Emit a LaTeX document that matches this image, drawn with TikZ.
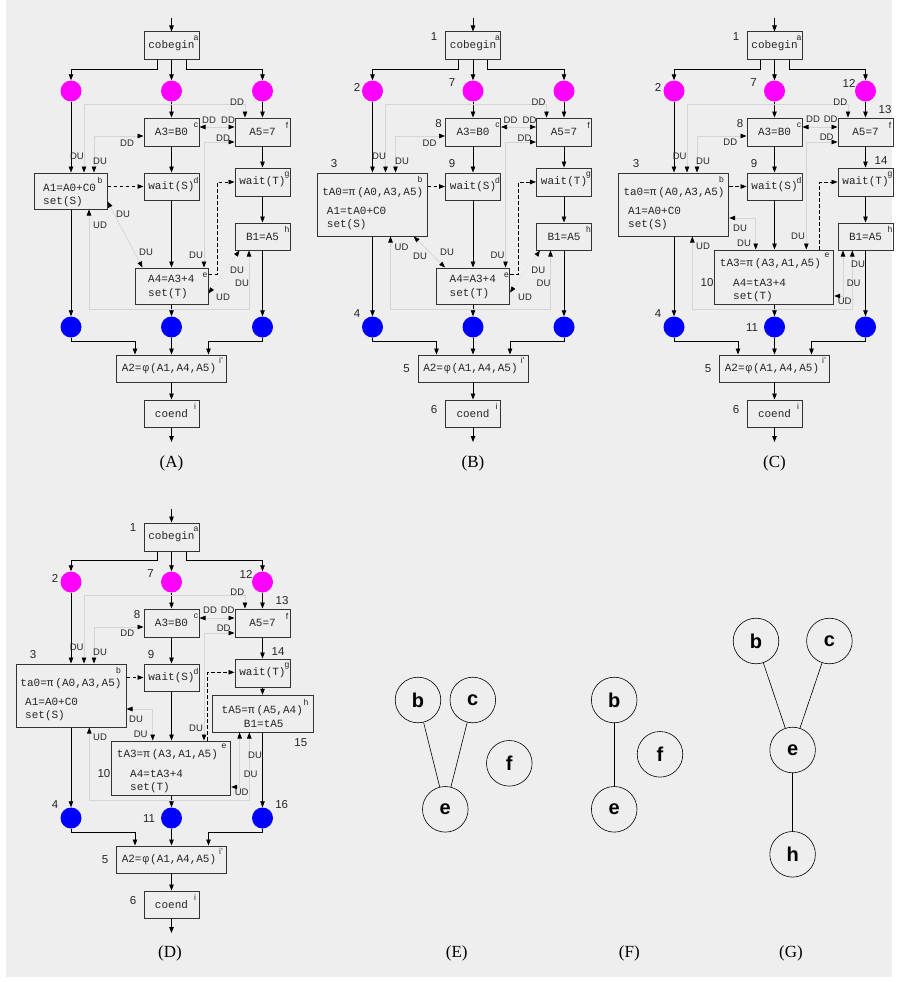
\documentclass[tikz,border=0pt]{standalone}
\usepackage{fontspec}
\setmainfont{Liberation Serif}
\setsansfont{Liberation Sans}
\setmonofont{Liberation Mono}
\usetikzlibrary{arrows.meta,calc}
\definecolor{bg}{HTML}{EEEEEE}
\definecolor{depc}{HTML}{D5D5D5}
\definecolor{magc}{HTML}{FF00FF}
\definecolor{bluc}{HTML}{0000FF}
\definecolor{boxc}{HTML}{333333}
\tikzset{
 box/.style={draw=boxc, line width=1pt, inner sep=0pt, text=black!85, font=\fontsize{11}{12}\ttfamily},
 txt/.style={inner sep=0pt, text=black!85, font=\fontsize{11}{12}\ttfamily},
 crn/.style={inner sep=0pt, text=black!85, font=\fontsize{8.5}{9}\sffamily},
 lab/.style={inner sep=0pt, text=black!85, font=\fontsize{9.5}{10}\sffamily},
 num/.style={inner sep=0pt, text=black!85, font=\fontsize{11.5}{12}\sffamily},
 magnode/.style={circle, fill=magc, minimum size=21pt, inner sep=0pt},
 blunode/.style={circle, fill=bluc, minimum size=21pt, inner sep=0pt},
 arr/.style={line width=0.8pt, -{Triangle[length=6pt,width=4.5pt]}},
 dep/.style={draw=depc, line width=0.7pt, {Triangle[length=6pt,width=4.5pt,color=black]}-{Triangle[length=6pt,width=4.5pt,color=black]}},
 dashline/.style={line width=0.8pt, dash pattern=on 3.5pt off 2.5pt, -{Triangle[length=6pt,width=4.5pt]}},
 gcirc/.style={circle, draw, line width=0.6pt, minimum size=45.6pt, inner sep=0pt, font=\fontsize{20}{22}\sffamily\bfseries},
 captxt/.style={inner sep=0pt, font=\fontsize{17}{19}\rmfamily}
}
\newcommand\cmnpart{%
 \coordinate (in) at (171.5,18);
 \coordinate (out) at (171.5,442);
 \node[box,minimum width=55pt,minimum height=28pt] (cob) at (171.5,46) {cobegin};
 \node[crn] (cobl) at (196,38) {a};
 \node[magnode] (m1) at (71,91) {};
 \node[magnode] (m2) at (171.5,91) {};
 \node[magnode] (m3) at (262.5,91) {};
 \node[box,minimum width=55pt,minimum height=28pt] (c) at (171.5,132) {A3=B0};
 \node[crn] (cl) at (196,125) {c};
 \node[box,minimum width=55pt,minimum height=28pt] (f) at (262.5,132) {A5=7};
 \node[crn] (fl) at (287,125) {f};
 \node[box,minimum width=55pt,minimum height=27pt] (d) at (171.5,186.5) {wait(S)};
 \node[crn] (dl) at (196,180) {d};
 \node[box,minimum width=55pt,minimum height=28pt] (g) at (262.5,182) {wait(T)};
 \node[crn] (gl) at (287,175) {g};
 \node[blunode] (u1) at (71,327) {};
 \node[blunode] (u2) at (171.5,327) {};
 \node[blunode] (u3) at (262.5,327) {};
 \node[box,minimum width=110pt,minimum height=27pt] (ip) at (171.5,368.5) {};
 \node[txt] (ipt) at (169,369) {A2=\hspace{1pt}φ\hspace{1pt}(A1,A4,A5)};
 \node[crn] (ipl) at (221,360) {i'};
 \node[box,minimum width=55pt,minimum height=27pt] (co) at (171.5,413.5) {coend};
 \node[crn] (col) at (195,406) {i};
 \draw[arr] (in) -- (cob);
 \draw[arr] ([xshift=-14.5pt]cob.south) -- ++(0,9) -| (m1);
 \draw[arr] (cob) -- (m2);
 \draw[arr] ([xshift=14.5pt]cob.south) -- ++(0,9) -| (m3);
 \draw[arr] (m2) -- (c);
 \draw[arr] (m3) -- (f);
 \draw[arr] (c) -- (d);
 \draw[arr] (f) -- (g);
 \draw[arr] (u1.south) -- ++(0,3.5) -| ([xshift=-36.5pt]ip.north);
 \draw[arr] (u2) -- (ip);
 \draw[arr] (u3.south) -- ++(0,3.5) -| ([xshift=37pt]ip.north);
 \draw[arr] (ip) -- (co);
 \draw[arr] (co) -- (out);
 \draw[arr] (m1) -- (b.north -| m1);
 \draw[arr] (b.south -| u1) -- (u1);
 \draw[arr] (d) -- (e.north -| d);
 \draw[arr] (e.south -| u2) -- (u2);
 \draw[arr] (g) -- (h.north -| g);
 \draw[arr] (h.south -| u3) -- (u3);
 \draw[dashline] (b.east |- d) -- (d.west);
 \coordinate (p1) at (84,104);
 \coordinate (p2) at (245,104);
 \draw[dep] (b.north -| p1) -- (p1) -- (p2) -- (f.north -| p2);
 \coordinate (p3) at (94,136);
 \draw[dep] (c.west |- p3) -- (p3) -- (b.north -| p3);
 \coordinate (p4) at (217,127);
 \draw[dep] (c.east |- p4) -- (f.west |- p4);
}
\begin{document}
\begin{tikzpicture}[x=1pt,y=-1pt]
\useasboundingbox (0,0) rectangle (898,982);
\fill[bg] (6,0) rectangle (892,977);

% ---------------- (A)
\begin{scope}[name prefix=A-]
 \node[box,minimum width=73pt,minimum height=36pt] (b) at (70.5,191) {};
 \node[txt,anchor=west] (bt1) at (43,188) {A1=A0+C0};
 \node[txt,anchor=west] (bt2) at (43,202) {set(S)};
 \node[crn] (bl) at (100,180) {b};
 \node[box,minimum width=73pt,minimum height=36pt] (e) at (171.5,286) {};
 \node[txt,anchor=west] (et1) at (148,279) {A4=A3+4};
 \node[txt,anchor=west] (et2) at (148,294) {set(T)};
 \node[crn] (el) at (205,275) {e};
 \node[box,minimum width=55pt,minimum height=27pt] (h) at (262.5,236.5) {B1=A5};
 \node[crn] (hl) at (287,229) {h};
 \cmnpart
 \coordinate (k1) at (217,274);
 \draw[dashline] (e.east |- k1) -- (k1) |- (g.west);
 \coordinate (p5) at (204,142);
 \draw[dep] (f.west |- p5) -- (p5) -- (e.north -| p5);
 \draw[dep] ([yshift=8pt]b.south east) -- ([xshift=8pt]e.north west);
 \coordinate (p6) at (89,309);
 \coordinate (p7) at (249,309);
 \draw[dep] (b.south -| p6) -- (p6) -- (p7) -- (h.south -| p7);
 \draw[dep,dotted] ([yshift=11pt]e.south east) -- ([xshift=5pt]h.south west);
 \node[lab] (l1) at (77,156) {DU};
 \node[lab] (l2) at (100,161) {DU};
 \node[lab] (l3) at (237,102) {DD};
 \node[lab] (l4) at (127,143) {DD};
 \node[lab] (l5) at (209,120) {DD};
 \node[lab] (l6) at (228,120) {DD};
 \node[lab] (l7) at (223,138) {DD};
 \node[lab] (l8) at (196,255) {DU};
 \node[lab] (l9) at (123,214) {DU};
 \node[lab] (l10) at (146,252) {DU};
 \node[lab] (l11) at (100,225) {UD};
 \node[lab] (l12) at (242,283) {DU};
 \node[lab] (l13) at (223,297) {UD};
 \node[lab] (l14) at (237,270) {DU};
 \node[captxt] (cp) at (171.5,463) {(A)};
\end{scope}

% ---------------- (B)
\begin{scope}[shift={(301.5,0)},name prefix=B-]
 \node[box,minimum width=110pt,minimum height=63pt] (b) at (70.7,204.5) {};
 \node[txt] (bt0) at (71.3,193) {tA0=π\hspace{2pt}(A0,A3,A5)};
 \node[txt,anchor=west] (bt1) at (25.2,211) {A1=tA0+C0};
 \node[txt,anchor=west] (bt2) at (25.2,225) {set(S)};
 \node[crn] (bl) at (118.5,179) {b};
 \node[box,minimum width=73pt,minimum height=36pt] (e) at (171.5,286) {};
 \node[txt,anchor=west] (et1) at (148,279) {A4=A3+4};
 \node[txt,anchor=west] (et2) at (148,294) {set(T)};
 \node[crn] (el) at (205,275) {e};
 \node[box,minimum width=55pt,minimum height=27pt] (h) at (262.5,236.5) {B1=A5};
 \node[crn] (hl) at (287,229) {h};
 \cmnpart
 \coordinate (k1) at (217,274);
 \draw[dashline] (e.east |- k1) -- (k1) |- (g.west);
 \coordinate (p5) at (204,142);
 \draw[dep] (f.west |- p5) -- (p5) -- (e.north -| p5);
 \draw[dep] ([xshift=-14pt]b.south east) -- ([xshift=9pt]e.north west);
 \coordinate (p6) at (89,309);
 \coordinate (p7) at (249,309);
 \draw[dep] (b.south -| p6) -- (p6) -- (p7) -- (h.south -| p7);
 \draw[dep,dotted] ([yshift=12pt]e.south east) -- ([xshift=4pt]h.south west);
 \node[lab] (l1) at (77.5,156) {DU};
 \node[lab] (l2) at (100.5,161) {DU};
 \node[lab] (l3) at (237,102) {DD};
 \node[lab] (l4) at (128,143) {DD};
 \node[lab] (l5) at (209,120) {DD};
 \node[lab] (l6) at (228,120) {DD};
 \node[lab] (l7) at (223,138) {DD};
 \node[lab] (l8) at (196,255) {DU};
 \node[lab] (l9) at (118.5,256) {DU};
 \node[lab] (l10) at (145.5,252) {DU};
 \node[lab] (l11) at (100,247) {UD};
 \node[lab] (l12) at (242,283) {DU};
 \node[lab] (l13) at (223.5,297) {UD};
 \node[lab] (l14) at (236.8,270) {DU};
 \node[num] (n1) at (132.5,37) {1};
 \node[num] (n2) at (55.5,87) {2};
 \node[num] (n7) at (150.5,83) {7};
 \node[num] (n8) at (137,124) {8};
 \node[num] (n3) at (32.5,164) {3};
 \node[num] (n9) at (150.5,164) {9};
 \node[num] (n4) at (55.5,314) {4};
 \node[num] (n5) at (105,369) {5};
 \node[num] (n6) at (132.5,410) {6};
 \node[captxt] (cp) at (171.5,463) {(B)};
\end{scope}

% ---------------- (C)
\begin{scope}[shift={(603,0)},name prefix=C-]
 \node[box,minimum width=110pt,minimum height=63pt] (b) at (70.7,204.5) {};
 \node[txt] (bt0) at (71,192.7) {ta0=π\hspace{2pt}(A0,A3,A5)};
 \node[txt,anchor=west] (bt1) at (25,210.7) {A1=A0+C0};
 \node[txt,anchor=west] (bt2) at (25,225) {set(S)};
 \node[crn] (bl) at (118.5,179) {b};
 \node[box,minimum width=119.4pt,minimum height=54.7pt] (e) at (171,277.35) {};
 \node[txt,anchor=west] (et0) at (116.7,264) {tA3=π\hspace{2pt}(A3,A1,A5)};
 \node[txt,anchor=west] (et1) at (130,283) {A4=tA3+4};
 \node[txt,anchor=west] (et2) at (130,297) {set(T)};
 \node[crn] (el) at (224,255) {e};
 \node[box,minimum width=55pt,minimum height=27pt] (h) at (262.5,236.5) {B1=A5};
 \node[crn] (hl) at (287,229) {h};
 \cmnpart
 \coordinate (k1) at (216.7,182);
 \draw[dashline] (e.north -| k1) -- (k1) -- (g.west |- k1);
 \coordinate (p5) at (203.3,142);
 \draw[dep] (f.west |- p5) -- (p5) -- (e.north -| p5);
 \coordinate (q1) at (152.7,218);
 \draw[dep] (b.east |- q1) -- (q1) -- (e.north -| q1);
 \coordinate (p6) at (89.3,309);
 \coordinate (p7) at (249.3,309);
 \draw[dep] (b.south -| p6) -- (p6) -- (p7) -- (h.south -| p7);
 \coordinate (q2) at (240,296);
 \draw[dep] (e.east |- q2) -- (q2) -- (h.south -| q2);
 \node[lab] (l1) at (76.7,156) {DU};
 \node[lab] (l2) at (100,161) {DU};
 \node[lab] (l3) at (237.3,102) {DD};
 \node[lab] (l4) at (127.3,142.7) {DD};
 \node[lab] (l5) at (210,119.3) {DD};
 \node[lab] (l6) at (227.7,119.3) {DD};
 \node[lab] (l7) at (223.7,137.7) {DD};
 \node[lab] (l8) at (195,236.7) {DU};
 \node[lab] (l9) at (137,228) {DU};
 \node[lab] (l10) at (141,243) {DU};
 \node[lab] (l11) at (100,246.7) {UD};
 \node[lab] (l12) at (255,264) {DU};
 \node[lab] (l13) at (250.7,283) {DU};
 \node[lab] (l14) at (241.7,301.7) {UD};
 \node[num] (n1) at (133,37) {1};
 \node[num] (n2) at (55,87) {2};
 \node[num] (n7) at (150.5,83) {7};
 \node[num] (n12) at (246,83) {12};
 \node[num] (n13) at (282,110) {13};
 \node[num] (n8) at (137,124) {8};
 \node[num] (n3) at (33,164) {3};
 \node[num] (n9) at (151,164) {9};
 \node[num] (n14) at (278,161) {14};
 \node[num] (n10) at (104,283) {10};
 \node[num] (n4) at (55,314) {4};
 \node[num] (n11) at (149,328) {11};
 \node[num] (n5) at (105,369) {5};
 \node[num] (n6) at (133,410) {6};
 \node[captxt] (cp) at (171.5,463) {(C)};
\end{scope}

% ---------------- (D)
\begin{scope}[shift={(0,491)},name prefix=D-]
 \node[box,minimum width=110pt,minimum height=63pt] (b) at (71,204.5) {};
 \node[txt] (bt0) at (71,192.7) {ta0=π\hspace{2pt}(A0,A3,A5)};
 \node[txt,anchor=west] (bt1) at (25,210.7) {A1=A0+C0};
 \node[txt,anchor=west] (bt2) at (25,225) {set(S)};
 \node[crn] (bl) at (118.5,179) {b};
 \node[box,minimum width=119.4pt,minimum height=54.7pt] (e) at (171,277.35) {};
 \node[txt,anchor=west] (et0) at (116.7,264) {tA3=π\hspace{2pt}(A3,A1,A5)};
 \node[txt,anchor=west] (et1) at (130,283) {A4=tA3+4};
 \node[txt,anchor=west] (et2) at (130,297) {set(T)};
 \node[crn] (el) at (224,255) {e};
 \node[box,minimum width=100.8pt,minimum height=36.7pt] (h) at (262.7,222.65) {};
 \node[txt] (ht0) at (262.3,220) {tA5=π\hspace{2pt}(A5,A4)};
 \node[txt] (ht1) at (263.8,233) {B1=tA5};
 \node[crn] (hl) at (306,211.3) {h};
 \cmnpart
 \coordinate (k1) at (207.3,181.3);
 \draw[dashline] (e.north -| k1) -- (k1) -- (g.west |- k1);
 \coordinate (p5) at (204,142);
 \draw[dep] (f.west |- p5) -- (p5) -- (e.north -| p5);
 \coordinate (q1) at (152.7,218);
 \draw[dep] (b.east |- q1) -- (q1) -- (e.north -| q1);
 \coordinate (p6) at (89.3,309);
 \coordinate (p7) at (249.3,309);
 \draw[dep] (b.south -| p6) -- (p6) -- (p7) -- (h.south -| p7);
 \coordinate (q2) at (239.6,296);
 \draw[dep] (e.east |- q2) -- (q2) -- (h.south -| q2);
 \node[lab] (l1) at (76.7,156) {DU};
 \node[lab] (l2) at (100,161) {DU};
 \node[lab] (l3) at (237.3,101.3) {DD};
 \node[lab] (l4) at (127.3,142.7) {DD};
 \node[lab] (l5) at (210,119.3) {DD};
 \node[lab] (l6) at (227.7,119.3) {DD};
 \node[lab] (l7) at (223.7,137.7) {DD};
 \node[lab] (l8) at (196,237.3) {DU};
 \node[lab] (l9) at (136,228.3) {DU};
 \node[lab] (l10) at (140.7,243) {DU};
 \node[lab] (l11) at (100,246.7) {UD};
 \node[lab] (l12) at (255,264.7) {DU};
 \node[lab] (l13) at (250.7,283.3) {DU};
 \node[lab] (l14) at (241.7,301.3) {UD};
 \node[num] (n1) at (133,37) {1};
 \node[num] (n2) at (55,87) {2};
 \node[num] (n7) at (150.5,83) {7};
 \node[num] (n12) at (246,83) {12};
 \node[num] (n13) at (282,110) {13};
 \node[num] (n8) at (137,124) {8};
 \node[num] (n3) at (33,164) {3};
 \node[num] (n9) at (151,164) {9};
 \node[num] (n14) at (278,161) {14};
 \node[num] (n15) at (300.8,251.3) {15};
 \node[num] (n10) at (104,283) {10};
 \node[num] (n4) at (55,314) {4};
 \node[num] (n11) at (149,328) {11};
 \node[num] (n16) at (281.7,314) {16};
 \node[num] (n5) at (105,369) {5};
 \node[num] (n6) at (133,410) {6};
 \node[captxt] (cp) at (170,462.3) {(D)};
\end{scope}

% ---------------- (E)
\node[gcirc] (E-b) at (418,700) {b};
\node[gcirc] (E-c) at (472.8,700) {c};
\node[gcirc] (E-f) at (509.3,763.3) {f};
\node[gcirc] (E-e) at (445.3,809.3) {e};
\draw[line width=0.6pt] (E-b) -- (E-e);
\draw[line width=0.6pt] (E-c) -- (E-e);
\node[captxt] (E-cap) at (456.7,953.3) {(E)};

% ---------------- (F)
\node[gcirc] (F-b) at (614.2,700) {b};
\node[gcirc] (F-e) at (614.2,809.3) {e};
\node[gcirc] (F-f) at (660,754.3) {f};
\draw[line width=0.6pt] (F-b) -- (F-e);
\node[captxt] (F-cap) at (629.3,953.3) {(F)};

% ---------------- (G)
\node[gcirc] (G-b) at (756,641) {b};
\node[gcirc] (G-c) at (829.4,641) {c};
\node[gcirc] (G-e) at (792.6,750) {e};
\node[gcirc] (G-h) at (792.6,854.3) {h};
\draw[line width=0.6pt] (G-b) -- (G-e);
\draw[line width=0.6pt] (G-c) -- (G-e);
\draw[line width=0.6pt] (G-e) -- (G-h);
\node[captxt] (G-cap) at (791,953.3) {(G)};
\end{tikzpicture}
\end{document}
